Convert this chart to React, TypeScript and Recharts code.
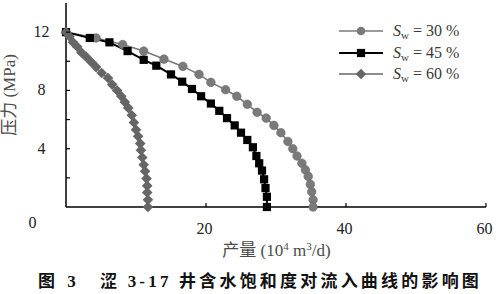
import { LineChart, Line, XAxis, YAxis, Legend, Label } from 'recharts';

// Sw = 30 % (circles)
const rate30 = [0, 4.3, 8.1, 11.1, 14.0, 16.7, 19.0, 20.7, 22.8, 24.4, 25.9, 27.3, 28.6, 29.7, 30.7, 31.7, 32.4, 33.0, 33.7, 34.2, 34.6, 34.9, 35.1, 35.3, 35.3];
const press30 = [12, 11.6, 11.15, 10.7, 10.15, 9.65, 9.1, 8.55, 8.05, 7.6, 7.05, 6.5, 6.1, 5.6, 5.1, 4.5, 4.0, 3.5, 3.0, 2.55, 2.1, 1.55, 1.05, 0.5, 0];

// Sw = 45 % (squares)
const rate45 = [0, 3.4, 6.2, 8.8, 11.1, 12.9, 15.0, 16.6, 18.0, 19.3, 20.7, 21.9, 23.0, 24.1, 25.0, 25.9, 26.7, 27.2, 27.6, 28.0, 28.3, 28.5, 28.7, 28.7];
const press45 = [12, 11.6, 11.3, 10.7, 10.1, 9.7, 9.1, 8.6, 8.1, 7.6, 7.1, 6.6, 6.1, 5.6, 5.1, 4.6, 4.1, 3.5, 3.0, 2.5, 1.9, 1.3, 0.7, 0];

// Sw = 60 % (diamonds)
const rate60 = [0, 0.5, 1.0, 1.6, 2.2, 2.9, 3.6, 4.3, 5.1, 6.0, 6.6, 7.3, 7.9, 8.4, 8.9, 9.4, 9.7, 10.0, 10.3, 10.6, 10.7, 10.9, 11.1, 11.3, 11.5, 11.6, 11.6, 11.7, 11.7];
const press60 = [12, 11.7, 11.3, 11.0, 10.6, 10.3, 9.95, 9.6, 9.2, 8.85, 8.4, 8.0, 7.6, 7.2, 6.8, 6.3, 5.8, 5.3, 4.85, 4.35, 3.9, 3.4, 2.9, 2.45, 1.95, 1.45, 1.0, 0.5, 0];

const legendLabels = ['30 %', '45 %', '60 %'];
const xTicks = [0, 20, 40, 60];
const yTicks = [0, 2, 4, 6, 8, 10, 12, 14];
const yLabelled = [4, 8, 12];

const toPoints = (q: number[], p: number[]) => q.map((v, i) => ({ q: v, p: p[i] }));
const data30 = toPoints(rate30, press30);
const data45 = toPoints(rate45, press45);
const data60 = toPoints(rate60, press60);

const serif = "'Liberation Serif', 'Noto Sans CJK SC', serif";
const CIRCLE = '#7a7a7a';
const DIAMOND = '#666666';

const SquareDot = (props: any) => {
  const { cx, cy, index } = props;
  if (cx == null || cy == null) return null;
  return <rect key={`sq-${index}`} x={cx - 4.1} y={cy - 4.1} width={8.2} height={8.2} fill="#000" />;
};

const DiamondDot = (props: any) => {
  const { cx, cy, index } = props;
  if (cx == null || cy == null) return null;
  const r = 5.3;
  return (
    <polygon
      key={`dm-${index}`}
      points={`${cx},${cy - r} ${cx + r},${cy} ${cx},${cy + r} ${cx - r},${cy}`}
      fill={DIAMOND}
    />
  );
};

const YTick = (props: any) => {
  const { x, y, payload } = props;
  const v = payload.value;
  return (
    <g>
      {v > 0 && v < 14 && <line x1={x} x2={x + 4} y1={y} y2={y} stroke="#000" strokeWidth={1.2} />}
      {yLabelled.includes(v) && (
        <text x={x - 24.5} y={y + 5} textAnchor="middle" fontFamily={serif} fontSize={16} fill="#222">
          {v}
        </text>
      )}
    </g>
  );
};

const XTick = (props: any) => {
  const { x, y, payload } = props;
  const v = payload.value;
  if (v === 0) {
    return (
      <text x={x - 33.5} y={y + 21} textAnchor="middle" fontFamily={serif} fontSize={16} fill="#222">
        0
      </text>
    );
  }
  return (
    <g>
      <line x1={x} x2={x} y1={y} y2={y - 4} stroke="#000" strokeWidth={1.2} />
      <text x={x - 1.5} y={y + 26.5} textAnchor="middle" fontFamily={serif} fontSize={16} fill="#222">
        {v}
      </text>
    </g>
  );
};

const Marker = ({ kind }: { kind: number }) => (
  <svg width={46} height={14} style={{ display: 'block' }}>
    {kind === 0 && (
      <>
        <line x1={0} x2={44} y1={7} y2={7} stroke={CIRCLE} strokeWidth={1.6} />
        <circle cx={22} cy={7} r={4.3} fill={CIRCLE} />
      </>
    )}
    {kind === 1 && (
      <>
        <line x1={0} x2={44} y1={7} y2={7} stroke="#000" strokeWidth={2} />
        <rect x={17.9} y={2.9} width={8.2} height={8.2} fill="#000" />
      </>
    )}
    {kind === 2 && (
      <>
        <line x1={0} x2={44} y1={7} y2={7} stroke={DIAMOND} strokeWidth={1.6} />
        <polygon points="22,1.7 27.3,7 22,12.3 16.7,7" fill={DIAMOND} />
      </>
    )}
  </svg>
);

const LegendBox = () => (
  <div style={{ fontFamily: serif, fontSize: 16, color: '#3a3a3a' }}>
    {legendLabels.map((lab, i) => (
      <div key={lab} style={{ display: 'flex', alignItems: 'center', height: 21.7 }}>
        <Marker kind={i} />
        <span style={{ marginLeft: 8, whiteSpace: 'nowrap' }}>
          <i>S</i>
          <span style={{ fontSize: 11, position: 'relative', top: 3 }}>w</span> = {lab}
        </span>
      </div>
    ))}
  </div>
);

const YTitle = (props: any) => {
  const { viewBox } = props;
  const cx = viewBox.x + 9;
  const cy = viewBox.y + viewBox.height / 2 - 10;
  return (
    <text
      x={cx}
      y={cy}
      transform={`rotate(-90, ${cx}, ${cy})`}
      textAnchor="middle"
      dominantBaseline="central"
      fontFamily={serif}
      fontSize={17}
      fill="#4a4a4a"
    >
      压力 (MPa)
    </text>
  );
};

const XTitle = (props: any) => {
  const { viewBox } = props;
  const cx = viewBox.x + viewBox.width / 2 + 0.5;
  return (
    <text x={cx} y={255.5} textAnchor="middle" fontFamily={serif} fontSize={17} fill="#4a4a4a">
      <tspan>产量 (10</tspan>
      <tspan dy={-6} fontSize={11}>4</tspan>
      <tspan dy={6}> m</tspan>
      <tspan dy={-6} fontSize={11}>3</tspan>
      <tspan dy={6}>/d)</tspan>
    </text>
  );
};

export default function App() {
  return (
    <div style={{ position: 'absolute', left: 0, top: 0, width: 500, height: 294, background: '#fff' }}>
      <LineChart width={500} height={294} margin={{ top: 3, right: 14, left: 0, bottom: 57 }}>
        <XAxis
          dataKey="q"
          type="number"
          domain={[0, 60]}
          ticks={xTicks}
          interval={0}
          height={30}
          tickLine={false}
          tickSize={0}
          tickMargin={0}
          tick={<XTick />}
          axisLine={{ stroke: '#000', strokeWidth: 1.5 }}
        >
          <Label content={<XTitle />} />
        </XAxis>
        <YAxis
          type="number"
          domain={[0, 14]}
          ticks={yTicks}
          interval={0}
          width={66}
          tickLine={false}
          tickSize={0}
          tickMargin={0}
          tick={<YTick />}
          axisLine={{ stroke: '#000', strokeWidth: 1.5 }}
        >
          <Label content={<YTitle />} />
        </YAxis>
        <Legend
          layout="horizontal"
          verticalAlign="middle"
          align="center"
          content={<LegendBox />}
          wrapperStyle={{ left: 339, top: 20, width: 160 }}
        />
        <Line
          data={data30}
          dataKey="p"
          name="30"
          stroke={CIRCLE}
          strokeWidth={1.6}
          dot={{ r: 4.3, fill: CIRCLE, stroke: '#6a6a6a', strokeWidth: 0.6 }}
          isAnimationActive={false}
        />
        <Line
          data={data45}
          dataKey="p"
          name="45"
          stroke="#000"
          strokeWidth={2}
          dot={<SquareDot />}
          isAnimationActive={false}
        />
        <Line
          data={data60}
          dataKey="p"
          name="60"
          stroke={DIAMOND}
          strokeWidth={1.4}
          dot={<DiamondDot />}
          isAnimationActive={false}
        />
      </LineChart>
      <div
        style={{
          position: 'absolute',
          left: 38,
          top: 271,
          fontFamily: "'Liberation Serif', 'Noto Sans CJK SC', serif",
          fontWeight: 700,
          fontSize: 17,
          color: '#111',
          whiteSpace: 'nowrap',
          lineHeight: '22px',
        }}
      >
        <span style={{ letterSpacing: 4 }}>图 3</span>
        <span style={{ position: 'absolute', left: 62, letterSpacing: 3.2 }}>
          涩 3-17 井含水饱和度对流入曲线的影响图
        </span>
      </div>
    </div>
  );
}
